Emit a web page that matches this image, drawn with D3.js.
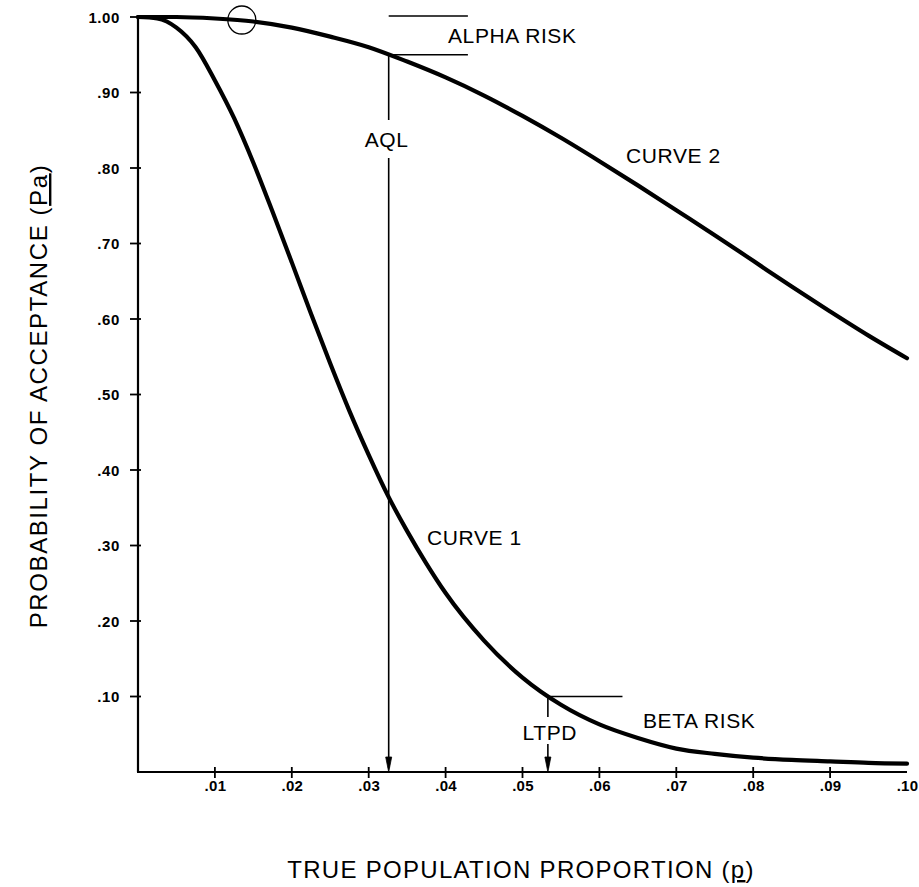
<!DOCTYPE html>
<html>
<head>
<meta charset="utf-8">
<script src="https://cdn.jsdelivr.net/npm/d3@7"></script>
<style>
  html, body { margin: 0; padding: 0; background: #fff; }
  svg { display: block; }
  text { font-family: "Liberation Sans", Arial, sans-serif; fill: #000; }
  .tick text { font-size: 15px; font-weight: bold; }
</style>
</head>
<body>
<svg id="chart" width="919" height="887"></svg>
<script>
// Operating characteristic curves: probability of acceptance vs true proportion defective

// Curve 1 (steep plan)
const curve1P  = [0, 0.0025, 0.005, 0.0075, 0.01, 0.0125, 0.015, 0.0175, 0.02, 0.0225, 0.025, 0.0275,
                  0.03, 0.0325, 0.035, 0.0375, 0.04, 0.045, 0.05, 0.055, 0.06, 0.065, 0.07, 0.075,
                  0.08, 0.085, 0.09, 0.095, 0.10];
const curve1Pa = [1.000, 0.998, 0.986, 0.960, 0.916, 0.866, 0.807, 0.742, 0.675, 0.607, 0.541, 0.478,
                  0.420, 0.366, 0.319, 0.276, 0.237, 0.174, 0.125, 0.089, 0.063, 0.045, 0.031, 0.024,
                  0.019, 0.016, 0.014, 0.012, 0.011];

// Curve 2 (flat plan)
const curve2P  = [0, 0.005, 0.01, 0.015, 0.02, 0.025, 0.03, 0.035, 0.04, 0.045, 0.05, 0.055,
                  0.06, 0.065, 0.07, 0.075, 0.08, 0.085, 0.09, 0.095, 0.10];
const curve2Pa = [1.000, 1.000, 0.998, 0.994, 0.986, 0.974, 0.960, 0.941, 0.920, 0.896, 0.869, 0.840,
                  0.809, 0.777, 0.744, 0.711, 0.677, 0.643, 0.610, 0.578, 0.548];

// Axis ticks
const xTicks = [0.01, 0.02, 0.03, 0.04, 0.05, 0.06, 0.07, 0.08, 0.09, 0.10];
const xTickLabels = [".01", ".02", ".03", ".04", ".05", ".06", ".07", ".08", ".09", ".10"];
const yTicks = [0.10, 0.20, 0.30, 0.40, 0.50, 0.60, 0.70, 0.80, 0.90, 1.00];
const yTickLabels = [".10", ".20", ".30", ".40", ".50", ".60", ".70", ".80", ".90", "1.00"];

// Reference points
const aqlP = 0.0326;    // acceptable quality level
const alphaPa = 0.95;  // Pa at AQL on curve 2 (alpha risk = 1 - Pa)
const ltpdP = 0.0533;  // lot tolerance percent defective
const betaPa = 0.10;   // Pa at LTPD on curve 1 (beta risk)
const circleP = 0.0135, circlePa = 0.996;

const svg = d3.select("#chart");
const x = d3.scaleLinear().domain([0, 0.10]).range([138, 907]);
const y = d3.scaleLinear().domain([0, 1]).range([772, 17]);

// Axes
const xAxis = d3.axisBottom(x).tickValues(xTicks).tickSize(0).tickFormat((d, i) => xTickLabels[i]);
const yAxis = d3.axisLeft(y).tickValues(yTicks).tickSize(0).tickFormat((d, i) => yTickLabels[i]);

const gx = svg.append("g").attr("transform", `translate(0,${y(0)})`).call(xAxis);
gx.attr("font-size", null).attr("font-family", null);
gx.select(".domain").remove();
gx.selectAll("text").attr("dy", 0).attr("y", 19).style("letter-spacing", "0.3px");

const gy = svg.append("g").attr("transform", `translate(${x(0)},0)`).call(yAxis);
gy.attr("font-size", null).attr("font-family", null);
gy.select(".domain").remove();
gy.selectAll("text").attr("x", -18).attr("dy", "0.35em").style("letter-spacing", "0.6px");

// axis lines
svg.append("line").attr("x1", x(0)).attr("x2", x(0)).attr("y1", y(1)).attr("y2", y(0))
  .attr("stroke", "#000").attr("stroke-width", 2.2);
svg.append("line").attr("x1", x(0) - 1).attr("x2", x(0.10)).attr("y1", y(0)).attr("y2", y(0))
  .attr("stroke", "#000").attr("stroke-width", 2.2);

// crossing tick marks
svg.append("g").selectAll("line").data(yTicks).join("line")
  .attr("x1", x(0) - 8).attr("x2", x(0) + 3)
  .attr("y1", d => y(d)).attr("y2", d => y(d))
  .attr("stroke", "#000").attr("stroke-width", 1.8);
svg.append("g").selectAll("line").data(xTicks.slice(0, -1)).join("line")
  .attr("x1", d => x(d)).attr("x2", d => x(d))
  .attr("y1", y(0) - 5).attr("y2", y(0) + 6)
  .attr("stroke", "#000").attr("stroke-width", 1.8);

// OC curves
const line = d3.line().x(d => x(d[0])).y(d => y(d[1])).curve(d3.curveMonotoneX);
svg.append("path").datum(curve1P.map((p, i) => [p, curve1Pa[i]]))
  .attr("d", line).attr("fill", "none").attr("stroke", "#000")
  .attr("stroke-width", 4.2).attr("stroke-linejoin", "round").attr("stroke-linecap", "round");
svg.append("path").datum(curve2P.map((p, i) => [p, curve2Pa[i]]))
  .attr("d", line).attr("fill", "none").attr("stroke", "#000")
  .attr("stroke-width", 4.2).attr("stroke-linejoin", "round").attr("stroke-linecap", "round");

// circle marker on curve 2
svg.append("circle").attr("cx", x(circleP)).attr("cy", y(circlePa)).attr("r", 14)
  .attr("fill", "none").attr("stroke", "#000").attr("stroke-width", 1.3);

const thin = 1.6;
function seg(x1, y1, x2, y2) {
  svg.append("line").attr("x1", x1).attr("y1", y1).attr("x2", x2).attr("y2", y2)
    .attr("stroke", "#000").attr("stroke-width", thin);
}
function arrowDown(xp, yTip) {
  svg.append("path")
    .attr("d", `M${xp - 3},${yTip - 15} L${xp + 3},${yTip - 15} L${xp},${yTip} Z`)
    .attr("fill", "#000").attr("stroke", "#000").attr("stroke-width", 0.8);
}

// AQL drop line with alpha risk bracket
const xa = x(aqlP);
seg(xa, y(alphaPa), xa, 120);
seg(xa, 158, xa, y(0) - 4);
arrowDown(xa, y(0));
seg(xa, y(1) - 1, x(0.0429), y(1) - 1);
seg(xa, y(alphaPa), x(0.0429), y(alphaPa));

// LTPD drop line with beta risk marker
const xl = x(ltpdP);
seg(xl, y(betaPa), xl, 717);
seg(xl, 744, xl, y(0) - 4);
arrowDown(xl, y(0));
seg(xl, y(betaPa), x(0.0630), y(betaPa));

// annotation labels
function label(txt, xp, yp, anchor) {
  return svg.append("text").attr("x", xp).attr("y", yp).text(txt)
    .attr("text-anchor", anchor || "start")
    .style("font-size", "21px").style("letter-spacing", "0.6px");
}
label("ALPHA RISK", 448, 43);
label("AQL", xa - 2, 147, "middle");
label("CURVE 2", 626, 163);
label("CURVE 1", 427, 545);
label("BETA RISK", 643, 728);
label("LTPD", xl + 2, 740, "middle");

// axis titles
const xt = svg.append("text").attr("x", 521).attr("y", 878).attr("text-anchor", "middle")
  .style("font-size", "24px").style("letter-spacing", "1.3px");
xt.append("tspan").text("TRUE POPULATION PROPORTION (");
xt.append("tspan").text("p").style("text-decoration", "underline");
xt.append("tspan").text(")");

const yt = svg.append("text").attr("transform", "translate(47,396) rotate(-90)")
  .attr("text-anchor", "middle")
  .style("font-size", "24px").style("letter-spacing", "1.6px");
yt.append("tspan").text("PROBABILITY OF ACCEPTANCE (");
yt.append("tspan").text("Pa").style("text-decoration", "underline");
yt.append("tspan").text(")");
</script>
</body>
</html>
